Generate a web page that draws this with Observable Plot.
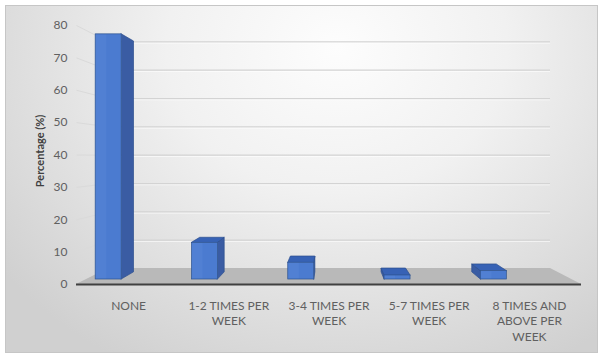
<!DOCTYPE html>
<html>
<head>
<meta charset="utf-8">
<script src="https://cdn.jsdelivr.net/npm/d3@7"></script>
<script src="https://cdn.jsdelivr.net/npm/@observablehq/plot@0.6"></script>
<style>
  html, body { margin: 0; padding: 0; background: #ffffff; }
  #wrap { position: relative; width: 600px; height: 356px; overflow: hidden; }
  #panel {
    position: absolute; left: 5px; top: 5px; width: 593px; height: 348px;
    box-sizing: border-box; border: 1px solid #c6c6c6;
    background: radial-gradient(ellipse 72% 105% at 56% 12%, #fdfdfd 0%, #f1f1f1 40%, #dedede 75%, #d0d0d0 100%);
  }
  #chart { position: absolute; left: 0; top: 0; }
</style>
</head>
<body>
<div id="wrap"><div id="panel"></div><div id="chart"></div></div>
<script>
// Exercise frequency survey: share of respondents per category
const categories = ["NONE", "1-2 TIMES PER WEEK", "3-4 TIMES PER WEEK", "5-7 TIMES PER WEEK", "8 TIMES AND ABOVE PER WEEK"];
const categoryLabels = ["NONE", "1-2 TIMES PER\nWEEK", "3-4 TIMES PER\nWEEK", "5-7 TIMES PER\nWEEK", "8 TIMES AND\nABOVE PER\nWEEK"];
const percentages = [78.8, 11.8, 5.4, 1.3, 2.7];
const yTicks = [0, 10, 20, 30, 40, 50, 60, 70, 80];
const yTitle = "Percentage (%)";

// 3D view set-up, in data units: category index (u), value (v), depth factor (k)
const floorStart = -0.52, floorEnd = 4.52;   // floor extent along the category axis
const wallDepth = 0.125;                      // depth of the back wall
const barFront = 0.039, barBack = 0.095;      // depth of each bar's front and back faces
const barShift = -0.29, barHalf = 0.135;      // bar placement within a category slot
const vanish = {u: 2.045, v: 39.5};           // vanishing point of the perspective

const px = (u, k) => u + k * (vanish.u - u);
const py = (v, k) => v + k * (vanish.v - v);

// faces of each bar
const bars = percentages.map((value, i) => {
  const c = i + barShift;
  return {id: categories[i], value, left: c - barHalf, right: c + barHalf};
});

const fronts = bars.map(b => ({
  id: b.id,
  x1: px(b.left, barFront), x2: px(b.right, barFront),
  xm: px(b.left + (b.right - b.left) * 0.45, barFront),
  y1: py(0, barFront), y2: py(b.value, barFront)
}));

const sides = bars.flatMap(b => {
  const u = b.right < vanish.u ? b.right : b.left;
  return [barFront, barBack].map(k => ({id: b.id, x: px(u, k), y1: py(0, k), y2: py(b.value, k)}));
});

const tops = bars.filter(b => b.value < vanish.v).flatMap(b =>
  [barFront, barBack].map(k => ({id: b.id, y: py(b.value, k), x1: px(b.left, k), x2: px(b.right, k)}))
);

const floor = [0, wallDepth].map(k => ({y: py(0, k), x1: px(floorStart, k), x2: px(floorEnd, k)}));

const wallLines = yTicks.map(v => ({
  v,
  y: py(v, wallDepth),
  x1: px(floorStart, wallDepth),
  x2: px(floorEnd, wallDepth),
  xs: px(floorStart, 0)
}));

const chart = Plot.plot({
  width: 600,
  height: 356,
  marginLeft: 76,
  marginRight: 19,
  marginTop: 25,
  marginBottom: 72,
  style: {background: "transparent", fontFamily: "Lato, 'Open Sans', sans-serif", fontSize: "12px", color: "#606060"},
  x: {domain: [floorStart, floorEnd], axis: null},
  y: {domain: [0, 80], ticks: yTicks, tickSize: 0, tickPadding: 9, label: null},
  marks: [
    // side wall and back wall gridlines
    Plot.link(wallLines, {x1: "xs", y1: "v", x2: "x1", y2: "y", stroke: "#dadada", strokeWidth: 1}),
    Plot.ruleY(wallLines, {y: "y", x1: "x1", x2: "x2", stroke: "#d3d3d3", strokeWidth: 1.2}),
    Plot.ruleY(wallLines, {y: "y", x1: "x1", x2: "x2", stroke: "#ffffff", strokeWidth: 1, strokeOpacity: 0.6, dy: 1.3}),
    // floor
    Plot.areaX(floor, {y: "y", x1: "x1", x2: "x2", fill: "#b9b9b9"}),
    Plot.ruleY([0], {x1: floorStart, x2: floorEnd, stroke: "#404040", strokeWidth: 2}),
    // bars
    Plot.areaY(sides, {x: "x", y1: "y1", y2: "y2", z: "id", fill: "#3a5ca3", stroke: "#2c4f8e", strokeWidth: 0.7}),
    Plot.areaX(tops, {y: "y", x1: "x1", x2: "x2", z: "id", fill: "#3762b5", stroke: "#2c4f8e", strokeWidth: 0.7}),
    Plot.rect(fronts, {x1: "x1", x2: "x2", y1: "y1", y2: "y2", fill: "#4b7bd0", stroke: "#2f548f", strokeWidth: 0.7}),
    Plot.rect(fronts, {x1: "x1", x2: "xm", y1: "y1", y2: "y2", fill: "#6a97e2", fillOpacity: 0.2, inset: 0.6}),
    // category labels
    Plot.text(categoryLabels, {x: (d, i) => i, y: 0, text: d => d, dy: 14, lineAnchor: "top", lineHeight: 1.3, fill: "#606060", fontSize: 12}),
    // value axis title
    Plot.text([yTitle], {frameAnchor: "left", dx: -36, dy: -4, rotate: -90, textAnchor: "middle", fontWeight: "bold", fontSize: 11, fill: "#404040"})
  ]
});

document.getElementById("chart").appendChild(chart);
</script>
</body>
</html>
